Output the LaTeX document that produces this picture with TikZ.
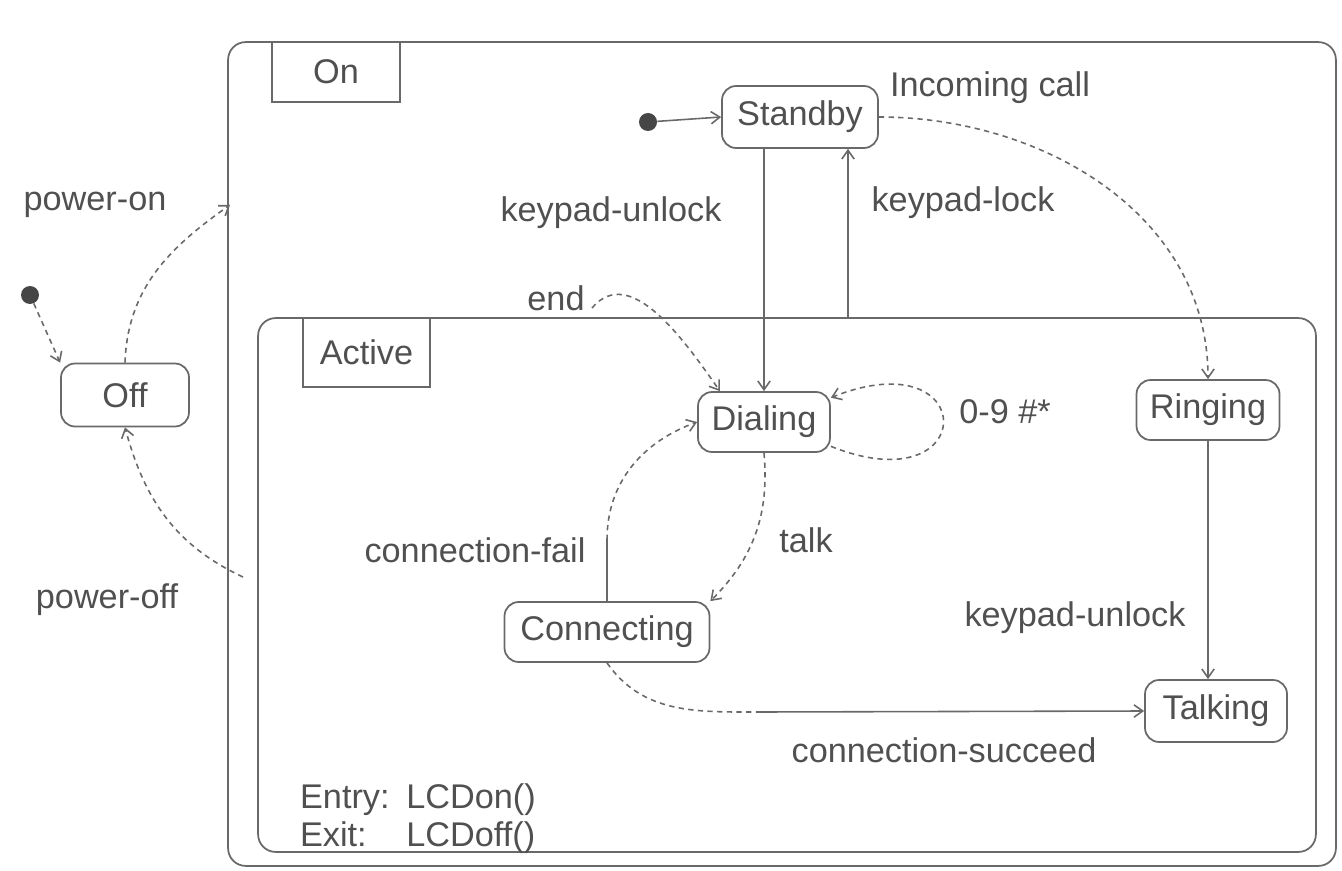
\documentclass[tikz,border=0pt]{standalone}
\usepackage{fontspec}
\setmainfont{Liberation Sans}
\usetikzlibrary{arrows.meta}
\definecolor{inkgray} {RGB}{ 80, 80, 80}
\definecolor{linegray}{RGB}{105,105,105}
\definecolor{dotgray} {RGB}{ 70, 70, 70}

\begin{document}
\begin{tikzpicture}[
    x=0.02cm, y=0.02cm,
    font=\fontsize{19.5}{23}\selectfont, text=inkgray,
    stbox/.style={draw=linegray, line width=1pt, rounded corners=8pt, inner sep=0pt},
    container/.style={draw=linegray, line width=1pt, rounded corners=10pt, inner sep=0pt, outer sep=0pt},
    tab/.style={draw=linegray, line width=1pt, inner sep=0pt, outer sep=0pt},
    startdot/.style={circle, fill=dotgray, minimum size=0.36cm, inner sep=0pt},
    seg/.style={draw=linegray, line width=0.9pt},
    trans/.style={seg, ->, >={Straight Barb[length=5pt,width=7pt]}},
    curved/.style={trans, dash pattern=on 3pt off 2.5pt},
    lbl/.style={inner sep=1pt}
]
\useasboundingbox (0,0) rectangle (1342,870);

% containers
\node[container, minimum width=22.16cm, minimum height=16.48cm] (on) at (782,416) {};
\node[tab, minimum width=2.56cm, minimum height=1.2cm] (onTab) at (336,798) {On};
\node[container, minimum width=21.16cm, minimum height=10.68cm] (active) at (787,285) {};
\node[tab, minimum width=2.54cm, minimum height=1.38cm] (activeTab) at (366.5,517.5) {Active};

% states
\node[startdot] (startOff) at (30,575) {};
\node[stbox, minimum width=2.56cm, minimum height=1.26cm] (off) at (125,475) {Off};
\node[startdot] (startOn) at (648,748) {};
\node[stbox, minimum width=3.12cm, minimum height=1.24cm] (standby) at (800,753) {Standby};
\node[stbox, minimum width=2.64cm, minimum height=1.2cm] (dialing) at (764,448) {Dialing};
\node[stbox, minimum width=4.1cm, minimum height=1.2cm] (connecting) at (607,238) {Connecting};
\node[stbox, minimum width=2.86cm, minimum height=1.2cm] (ringing) at (1208,460) {Ringing};
\node[stbox, minimum width=2.84cm, minimum height=1.24cm] (talking) at (1216,159) {Talking};

% free ends
\coordinate (onIn) at (230,665);
\coordinate (offSrc) at (243,293);
\coordinate (lockFoot) at (848,552);
\coordinate (endSrc) at (592,562);
\coordinate (failBend) at (607,330);
\coordinate (sucBend) at (760,158);

% labels
\node[lbl] (lblPowerOn) at (95,665) {power-on};
\node[lbl] (lblPowerOff) at (107,270) {power-off};
\node[lbl] (lblIncoming) at (990,782) {Incoming call};
\node[lbl] (lblUnlockTop) at (611,657) {keypad-unlock};
\node[lbl] (lblLock) at (963,667) {keypad-lock};
\node[lbl] (lblEnd) at (556,572) {end};
\node[lbl] (lblDigits) at (1005,458) {0-9 \#*};
\node[lbl] (lblFail) at (475,320) {connection-fail};
\node[lbl] (lblTalk) at (806,330) {talk};
\node[lbl] (lblUnlockLow) at (1075,252) {keypad-unlock};
\node[lbl] (lblSucceed) at (944,120) {connection-succeed};
\node[lbl, anchor=west] (entry) at (298,70) {\makebox[3.1em][l]{Entry:}LCDon()};
\node[lbl, anchor=west] (exit) at (298,32) {\makebox[3.1em][l]{Exit:}LCDoff()};

% transitions
\draw[curved] (startOff) -- (off.north west);
\draw[curved] (off.north) to[out=88,in=215] (onIn);
\draw[curved] (offSrc) to[out=155,in=-75] (off.south);
\draw[trans] (startOn) -- (standby.west);
\draw[curved] (standby.east) to[out=0,in=90] (ringing.north);
\draw[trans] (standby.south -| dialing.north) -- (dialing.north);
\draw[trans] (lockFoot) -- (lockFoot |- standby.south);
\draw[curved] (endSrc) to[out=50,in=125] (dialing.145);
\draw[curved] (dialing.-20) .. controls +(150,-60) and +(150,60) .. (dialing.20);
\draw[curved] (dialing.south) to[out=-85,in=45] (connecting.north east);
\draw[seg] (connecting.north) -- (failBend);
\draw[curved] (failBend) to[out=90,in=200] (dialing.west);
\draw[seg, dash pattern=on 3pt off 2.5pt] (connecting.south) to[out=-55,in=180] (sucBend);
\draw[trans] (sucBend) -- (talking.west);
\draw[trans] (ringing.south) -- (ringing.south |- talking.north);
\end{tikzpicture}
\end{document}
